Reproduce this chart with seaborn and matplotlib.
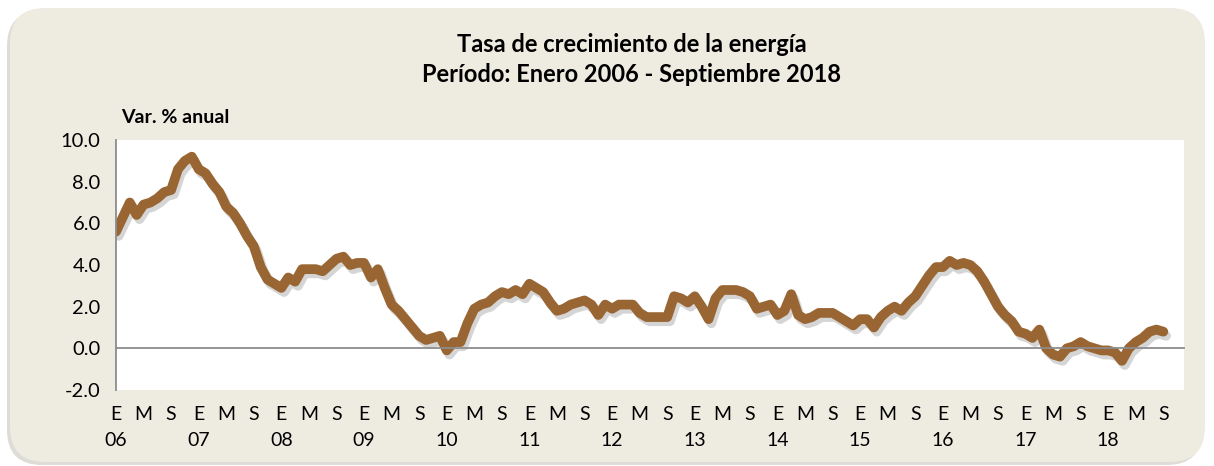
import matplotlib.pyplot as plt
import matplotlib.patheffects as pe
import matplotlib.transforms as mtransforms
from matplotlib.patches import FancyBboxPatch
import pandas as pd
import seaborn as sns

# Monthly annual growth (%), Jan 2006 - Sep 2018
years = ["06", "07", "08", "09", "10", "11", "12", "13", "14", "15", "16", "17", "18"]
month_letters = ["E", "M", "S"]
growth = [
    5.6, 6.3, 7.0, 6.4, 6.9, 7.0, 7.2, 7.5, 7.6, 8.6, 9.0, 9.2,   # 2006
    8.6, 8.4, 7.9, 7.5, 6.8, 6.5, 6.0, 5.4, 4.9, 3.9, 3.3, 3.1,   # 2007
    2.9, 3.4, 3.2, 3.8, 3.8, 3.8, 3.7, 4.0, 4.3, 4.4, 4.0, 4.1,   # 2008
    4.1, 3.4, 3.8, 2.9, 2.1, 1.8, 1.4, 1.0, 0.6, 0.4, 0.5, 0.6,   # 2009
    -0.1, 0.3, 0.3, 1.2, 1.9, 2.1, 2.2, 2.5, 2.7, 2.6, 2.8, 2.6,  # 2010
    3.1, 2.9, 2.7, 2.2, 1.8, 1.9, 2.1, 2.2, 2.3, 2.1, 1.6, 2.1,   # 2011
    1.9, 2.1, 2.1, 2.1, 1.7, 1.5, 1.5, 1.5, 1.5, 2.5, 2.4, 2.2,   # 2012
    2.5, 2.0, 1.4, 2.4, 2.8, 2.8, 2.8, 2.7, 2.5, 1.9, 2.0, 2.1,   # 2013
    1.6, 1.8, 2.6, 1.6, 1.4, 1.5, 1.7, 1.7, 1.7, 1.5, 1.3, 1.1,   # 2014
    1.4, 1.4, 1.0, 1.5, 1.8, 2.0, 1.8, 2.2, 2.5, 3.0, 3.5, 3.9,   # 2015
    3.9, 4.2, 4.0, 4.1, 4.0, 3.7, 3.2, 2.6, 2.0, 1.6, 1.3, 0.8,   # 2016
    0.7, 0.5, 0.9, 0.0, -0.3, -0.4, 0.0, 0.1, 0.3, 0.1, 0.0, -0.1,  # 2017
    -0.1, -0.2, -0.6, 0.0, 0.3, 0.5, 0.8, 0.9, 0.8,                # 2018
]

df = pd.DataFrame({"mes": range(len(growth)), "var": growth})

sns.set_theme(style="white")
plt.rcParams["font.family"] = ["Lato", "DejaVu Sans"]
plt.rcParams["text.color"] = "black"
plt.rcParams["ytick.color"] = "black"

W, H = 1214, 466
fig = plt.figure(figsize=(W / 100, H / 100), dpi=100)
fig.patch.set_facecolor("white")

# beige rounded card with a soft shadow
shadow = FancyBboxPatch((0.07, 0.01), 11.95, 4.54,
                        boxstyle="round,pad=0,rounding_size=0.35",
                        transform=fig.dpi_scale_trans, facecolor="#c8c5bc",
                        edgecolor="none", alpha=0.6, zorder=-2)
card = FancyBboxPatch((0.10, 0.04), 11.95, 4.54,
                      boxstyle="round,pad=0,rounding_size=0.35",
                      transform=fig.dpi_scale_trans, facecolor="#EEEBE1",
                      edgecolor="none", zorder=-1)
fig.patches.extend([shadow, card])

ax = fig.add_axes([116 / W, 1 - 390 / H, 1068 / W, 250 / H])
ax.set_facecolor("white")

sns.lineplot(data=df, x="mes", y="var", ax=ax, color="#996633", linewidth=7,
             solid_capstyle="round", solid_joinstyle="round",
             path_effects=[pe.SimpleLineShadow(offset=(2, -3), shadow_color="#777777", alpha=0.3),
                           pe.Normal()])

ax.set_xlim(0, 155)
ax.set_ylim(-2, 10)
ax.set_yticks(range(-2, 11, 2))
ax.set_yticklabels([f"{v:.1f}" for v in range(-2, 11, 2)])
ax.set_xticks(range(0, 156, 12))
ax.set_xticklabels([])
ax.set_xlabel("")
ax.set_ylabel("")

for s in ["top", "right"]:
    ax.spines[s].set_visible(False)
ax.spines["bottom"].set_position(("data", 0))
ax.spines["bottom"].set_color("#8c8c8c")
ax.spines["left"].set_color("#8c8c8c")
ax.spines["bottom"].set_linewidth(1.3)
ax.spines["left"].set_linewidth(1.3)
ax.tick_params(axis="x", direction="out", length=5, width=1.2, color="#8c8c8c")
ax.tick_params(axis="y", direction="out", length=5, width=1.2, color="#8c8c8c",
               labelcolor="black", labelsize=14.5, pad=6)

trans = mtransforms.blended_transform_factory(ax.transData, ax.transAxes)
for i in range(0, 156, 4):
    if i >= len(growth):
        break
    ax.text(i, -0.096, month_letters[(i % 12) // 4], transform=trans,
            ha="center", va="center", fontsize=14)
for k, yr in enumerate(years):
    ax.text(k * 12, -0.204, yr, transform=trans, ha="center", va="center", fontsize=14)

fig.text(632 / W, 1 - 45 / H, "Tasa de crecimiento de la energía",
         ha="center", va="center", fontsize=17, fontweight="bold")
fig.text(632 / W, 1 - 75 / H, "Período: Enero 2006 - Septiembre 2018",
         ha="center", va="center", fontsize=17, fontweight="bold")
fig.text(121 / W, 1 - 117 / H, "Var. % anual", ha="left", va="center",
         fontsize=14, fontweight="bold")

fig.savefig("out.png", dpi=100)
